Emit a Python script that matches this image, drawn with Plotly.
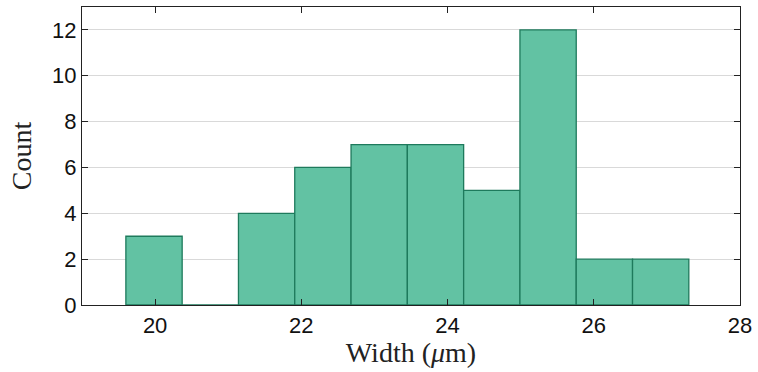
import plotly.graph_objects as go

bin_edges = [19.60, 20.37, 21.14, 21.91, 22.68, 23.45, 24.22, 24.99, 25.76, 26.53, 27.30]
counts = [3, 0, 4, 6, 7, 7, 5, 12, 2, 2]
x_ticks = [20, 22, 24, 26, 28]
y_ticks = [0, 2, 4, 6, 8, 10, 12]

centers = [(a + b) / 2 for a, b in zip(bin_edges[:-1], bin_edges[1:])]
widths = [b - a for a, b in zip(bin_edges[:-1], bin_edges[1:])]

fig = go.Figure(go.Bar(
    x=centers, y=counts, width=widths,
    marker=dict(color="#62c2a3", line=dict(color="#1e7a5c", width=1.3)),
))

tickfont = dict(family="Liberation Sans, Arial, sans-serif", size=22, color="#111")
titlefont = dict(family="Liberation Serif, DejaVu Serif, serif", size=28, color="#222")

fig.update_layout(
    width=758, height=372,
    margin=dict(l=82, r=18, t=7, b=67, autoexpand=False),
    paper_bgcolor="white", plot_bgcolor="white",
    showlegend=False,
    xaxis=dict(
        range=[19, 28], tickvals=x_ticks, ticks="inside", ticklen=6,
        tickcolor="#222", showline=True, linecolor="#222", linewidth=1.2,
        mirror="ticks", showgrid=False, zeroline=False, tickfont=tickfont,
        title=dict(text="Width (<i>μ</i>m)", font=titlefont, standoff=4),
    ),
    yaxis=dict(
        range=[0, 13], tickvals=y_ticks, ticks="inside", ticklen=6,
        tickcolor="#222", showline=True, linecolor="#222", linewidth=1.2,
        mirror="ticks", showgrid=True, gridcolor="#d9d9d9", gridwidth=1,
        zeroline=False, tickfont=tickfont,
        title=dict(text="Count", font=titlefont, standoff=12),
    ),
)

fig.write_html("out.html", config={"displayModeBar": False},
               post_script="document.body.style.margin='0';")
